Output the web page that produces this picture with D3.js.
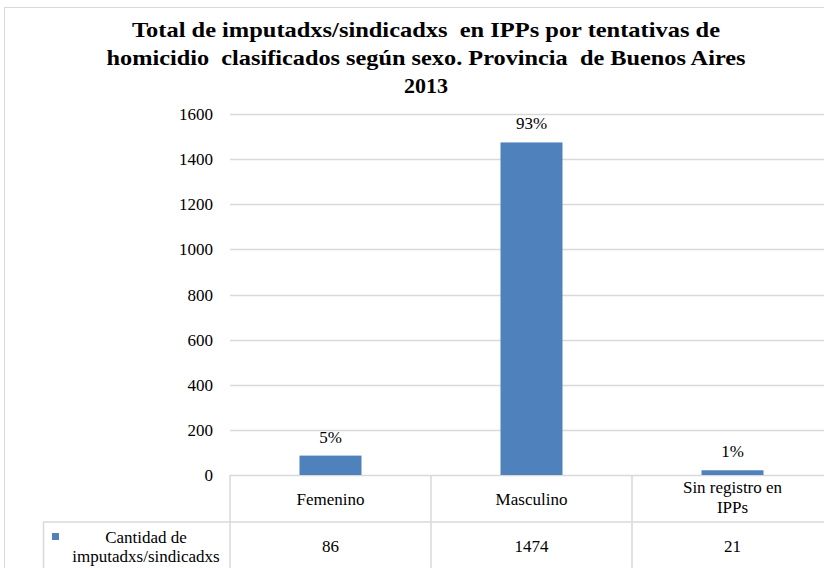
<!DOCTYPE html>
<html>
<head>
<meta charset="utf-8">
<script src="https://cdn.jsdelivr.net/npm/d3@7"></script>
<style>
  body { margin: 0; background: #fff; }
  svg text, svg tspan { fill: #000; white-space: pre; font-family: "Liberation Serif", "Times New Roman", Tinos, serif !important; }
</style>
</head>
<body>
<div id="chart"></div>
<script>
// chart data
var categories = ["Femenino", "Masculino", "Sin registro en IPPs"];
var values = [86, 1474, 21];
var percents = ["5%", "93%", "1%"];
var yTicks = [0, 200, 400, 600, 800, 1000, 1200, 1400, 1600];
var seriesName = ["Cantidad de", "imputadxs/sindicadxs"];
var titleLines = [
	"Total de imputadxs/sindicadxs  en IPPs por tentativas de",
	"homicidio  clasificados según sexo. Provincia  de Buenos Aires",
	"2013"
];

var W = 824, H = 568;
var grey = "#d9d9d9";
var blue = "#4f81bd";
var fontFam = "'Liberation Serif', 'Times New Roman', Tinos, serif";

var svg = d3.select("#chart").append("svg")
	.attr("width", W)
	.attr("height", H)
	.style("font-family", fontFam, "important");

// outer frame of the chart area
svg.append("rect")
	.attr("x", 4.5).attr("y", 7.5)
	.attr("width", W + 20).attr("height", H + 20)
	.attr("fill", "none")
	.attr("stroke", grey);

// title (stretched to the width it has in the original)
var titleWidths = [588, 639, 0];
svg.append("g").selectAll("text")
	.data(titleLines)
	.join("text")
	.attr("x", 426)
	.attr("y", (d, i) => 37 + i * 28)
	.attr("text-anchor", "middle")
	.style("font-family", fontFam, "important")
	.style("font-size", "22px")
	.style("font-weight", "bold")
	.text(d => d)
	.filter((d, i) => titleWidths[i] > 0)
	.attr("textLength", d => titleWidths[titleLines.indexOf(d)])
	.attr("lengthAdjust", "spacingAndGlyphs");

var plotLeft = 230, plotRight = 833;
var plotTop = 114, plotBottom = 475;

var yScale = d3.scaleLinear()
	.domain([0, 1600])
	.range([plotBottom, plotTop]);

var xScale = d3.scaleBand()
	.domain(categories)
	.range([plotLeft, plotRight])
	.paddingInner(0)
	.paddingOuter(0);

// gridlines
svg.append("g").selectAll("line")
	.data(yTicks)
	.join("line")
	.attr("x1", plotLeft).attr("x2", plotRight)
	.attr("y1", d => Math.round(yScale(d)) + 0.5)
	.attr("y2", d => Math.round(yScale(d)) + 0.5)
	.attr("stroke", grey)
	.attr("stroke-width", 1.5);

// y axis labels
svg.append("g").selectAll("text")
	.data(yTicks)
	.join("text")
	.attr("x", 213)
	.attr("y", d => yScale(d) + 6)
	.attr("text-anchor", "end")
	.style("font-family", fontFam, "important")
	.style("font-size", "17px")
	.text(d => d);

// bars
var barW = 62;
svg.append("g").selectAll("rect")
	.data(values)
	.join("rect")
	.attr("x", (d, i) => xScale(categories[i]) + (xScale.bandwidth() - barW) / 2)
	.attr("y", d => yScale(d))
	.attr("width", barW)
	.attr("height", d => yScale(0) - yScale(d))
	.attr("fill", blue);

// percentage labels
svg.append("g").selectAll("text")
	.data(values)
	.join("text")
	.attr("x", (d, i) => xScale(categories[i]) + xScale.bandwidth() / 2)
	.attr("y", d => yScale(d) - 13)
	.attr("text-anchor", "middle")
	.style("font-family", fontFam, "important")
	.style("font-size", "17px")
	.text((d, i) => percents[i]);

// data table below the axis
var row1 = plotBottom, row2 = 522, row3 = 580;
var tbl = svg.append("g")
	.attr("stroke", grey)
	.attr("stroke-width", 1.5);

tbl.append("line")
	.attr("x1", 43).attr("x2", plotRight)
	.attr("y1", row2).attr("y2", row2);
tbl.append("line")
	.attr("x1", 43.5).attr("x2", 43.5)
	.attr("y1", row2).attr("y2", row3);
tbl.selectAll(".vline")
	.data(categories)
	.join("line")
	.attr("class", "vline")
	.attr("x1", d => xScale(d))
	.attr("x2", d => xScale(d))
	.attr("y1", row1).attr("y2", row3);

// category labels, the last one wrapped on two lines
var catLines = [["Femenino"], ["Masculino"], ["Sin registro en", "IPPs"]];
svg.append("g").selectAll("text")
	.data(categories)
	.join("text")
	.attr("text-anchor", "middle")
	.style("font-family", fontFam, "important")
	.style("font-size", "17px")
	.each(function(d, i) {
		var lines = catLines[i];
		var cx = xScale(d) + xScale.bandwidth() / 2;
		var y0 = lines.length == 1 ? 505 : 493;
		d3.select(this).selectAll("tspan")
			.data(lines)
			.join("tspan")
			.attr("x", cx)
			.attr("y", (w, k) => y0 + k * 20)
			.text(w => w);
	});

// legend key + series name
svg.append("rect")
	.attr("x", 52).attr("y", 533)
	.attr("width", 7).attr("height", 7)
	.attr("fill", blue);

svg.append("g").selectAll("text")
	.data(seriesName)
	.join("text")
	.attr("x", 146)
	.attr("y", (d, i) => 543 + i * 19)
	.attr("text-anchor", "middle")
	.style("font-family", fontFam, "important")
	.style("font-size", "17px")
	.text(d => d);

// values row
svg.append("g").selectAll("text")
	.data(values)
	.join("text")
	.attr("x", (d, i) => xScale(categories[i]) + xScale.bandwidth() / 2)
	.attr("y", 552)
	.attr("text-anchor", "middle")
	.style("font-family", fontFam, "important")
	.style("font-size", "17px")
	.text(d => d);
</script>
</body>
</html>
